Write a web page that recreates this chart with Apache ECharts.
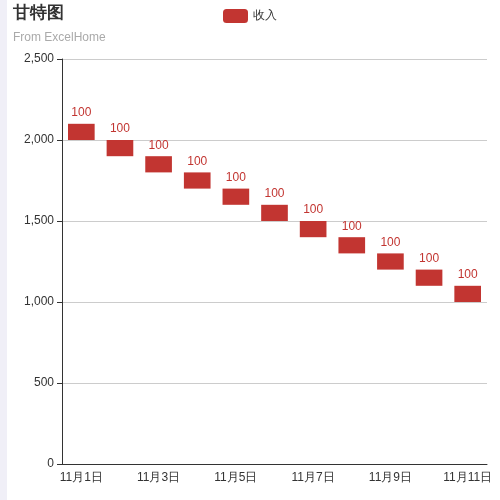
<!DOCTYPE html>
<html><head><meta charset="utf-8">
<script src="https://cdn.jsdelivr.net/npm/echarts@6/dist/echarts.min.js"></script>
<style>body{margin:0;background:#fff}#strip{position:absolute;left:0;top:0;width:7px;height:500px;background:#f0eff7}#main{width:500px;height:500px}</style>
</head><body><div id="strip"></div><div id="main"></div>
<script>
var categories = ['11月1日','11月2日','11月3日','11月4日','11月5日','11月6日','11月7日','11月8日','11月9日','11月10日','11月11日'];
var baseValues = [2000,1900,1800,1700,1600,1500,1400,1300,1200,1100,1000];
var incomeValues = [100,100,100,100,100,100,100,100,100,100,100];

var myChart = echarts.init(document.getElementById('main'));
myChart.setOption({
	animation: false,
	title: {
		text: '甘特图', subtext: 'From ExcelHome', left: 8, top: 0,
		textStyle: {fontSize: 17, fontWeight: 'bold', color: '#333'},
		subtextStyle: {color: '#aaa', fontSize: 12}, itemGap: 10
	},
	legend: {data: ['收入'], top: 4, left: 'center', textStyle: {color: '#333', fontSize: 12}},
	grid: {left: 62, right: 13, top: 59, bottom: 36},
	xAxis: {
		type: 'category', data: categories,
		axisLine: {lineStyle: {color: '#333'}},
		axisLabel: {color: '#333', fontSize: 12}
	},
	yAxis: {
		type: 'value', min: 0, max: 2500, interval: 500,
		axisLine: {show: true, lineStyle: {color: '#333'}},
		axisTick: {show: true},
		axisLabel: {color: '#333', fontSize: 12},
		splitLine: {lineStyle: {color: '#ccc'}}
	},
	series: [{
		name: '辅助', type: 'bar', stack: 'total',
		itemStyle: {color: 'rgba(0,0,0,0)'}, data: baseValues
	}, {
		name: '收入', type: 'bar', stack: 'total',
		itemStyle: {color: '#c23531'},
		label: {show: true, position: 'top', color: '#c23531', fontSize: 12},
		data: incomeValues
	}]
});
</script></body></html>
